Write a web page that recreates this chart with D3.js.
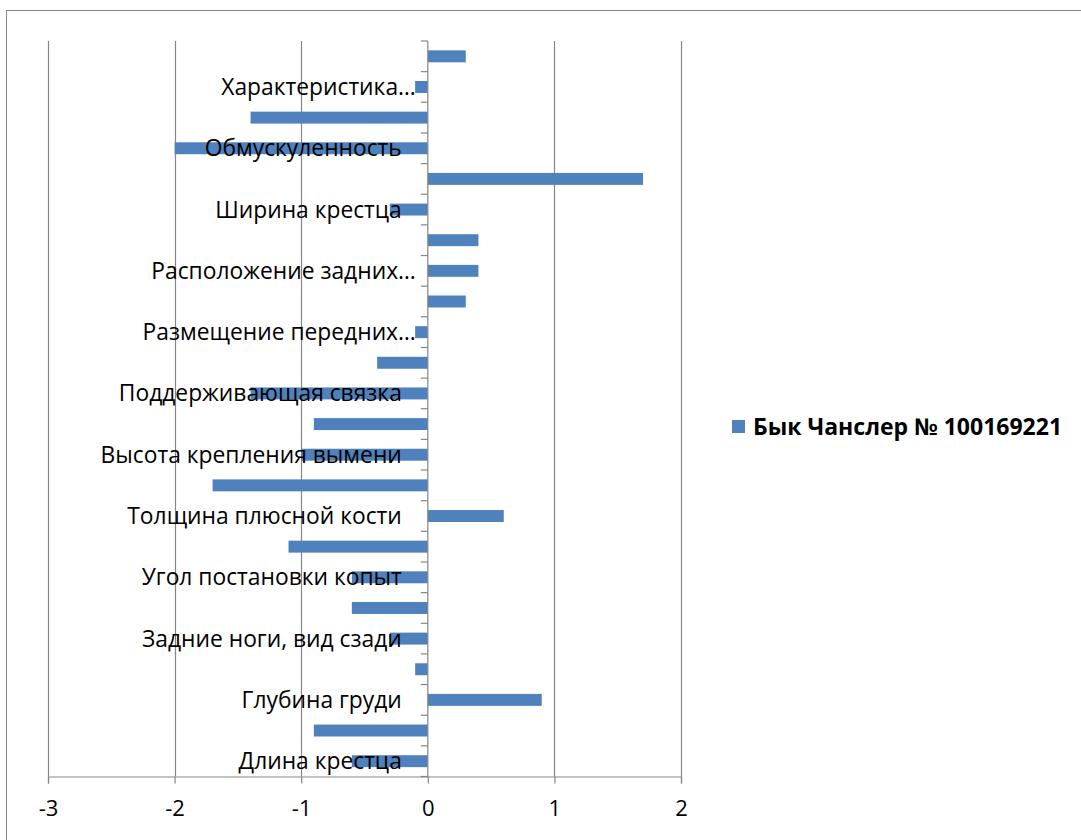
<!DOCTYPE html>
<html><head><meta charset="utf-8">
<script src="https://cdn.jsdelivr.net/npm/d3@7"></script>
<style>body{margin:0;background:#fff}</style>
</head><body>
<script>
// bottom-to-top order
const labels = ["Длина крестца","","Глубина груди","","Задние ноги, вид сзади","","Угол постановки копыт","",
  "Толщина плюсной кости","","Высота крепления вымени","","Поддерживающая связка","","Размещение передних…","",
  "Расположение задних…","","Ширина крестца","","Обмускуленность","","Характеристика…",""];
const values = [-0.6,-0.9,0.9,-0.1,-0.3,-0.6,-0.6,-1.1,0.6,-1.7,-1.0,-0.9,-1.4,-0.4,-0.1,0.3,0.4,0.4,-0.3,1.7,-2.0,-1.4,-0.1,0.3];
const xTicks = [-3,-2,-1,0,1,2];
const seriesName = "Бык Чанслер № 100169221";

const W=1081,H=840;
const svg=d3.select("body").append("svg").attr("width",W).attr("height",H);
const font="'Open Sans', sans-serif";
svg.append("rect").attr("x",6.5).attr("y",10.5).attr("width",1100).attr("height",900)
  .attr("fill","none").attr("stroke","#868686");

const x=d3.scaleLinear().domain([-3,2]).range([48,681]);
const idx=d3.range(values.length);
const y=d3.scaleBand().domain(idx).range([776.5,41]).paddingInner(0.61).paddingOuter(0.305);
const yb=d3.scaleBand().domain(idx).range([776.5,41]);

// gridlines
svg.append("g").selectAll("line").data(xTicks.filter(d=>d!==0)).join("line")
  .attr("x1",d=>Math.round(x(d))+0.5).attr("x2",d=>Math.round(x(d))+0.5)
  .attr("y1",41).attr("y2",776.5).attr("stroke","#868686").attr("stroke-width",1.2);

// bars
svg.append("g").selectAll("rect").data(values).join("rect")
  .attr("x",d=>x(Math.min(0,d))).attr("width",d=>Math.abs(x(d)-x(0)))
  .attr("y",(d,i)=>y(i)).attr("height",y.bandwidth())
  .attr("fill","#4f81bd");

// x axis
const xa=svg.append("g").attr("transform","translate(0,776.5)")
  .call(d3.axisBottom(x).tickValues(xTicks).tickSize(7).tickPadding(17).tickFormat(d=>String(d)));
xa.select(".domain").attr("stroke","#868686").attr("stroke-width",1.2);
xa.selectAll(".tick line").attr("stroke","#868686").attr("stroke-width",1.2);
xa.selectAll("text").attr("font-family",font).attr("font-size",22).attr("fill","#000");

// y axis line at zero
const ya=svg.append("g");
ya.append("line").attr("x1",x(0)).attr("x2",x(0)).attr("y1",41).attr("y2",776.5)
  .attr("stroke","#868686").attr("stroke-width",1.2);
ya.selectAll("line.t").data(d3.range(values.length+1)).join("line").attr("class","t")
  .attr("x1",x(0)-7).attr("x2",x(0))
  .attr("y1",i=>776.5-i*yb.step()).attr("y2",i=>776.5-i*yb.step())
  .attr("stroke","#868686").attr("stroke-width",1.2);
ya.selectAll("text").data(idx.filter(i=>labels[i])).join("text")
  .attr("x",i=>labels[i].endsWith("…")?x(0)-12:x(0)-26)
  .attr("y",i=>yb(i)+yb.bandwidth()/2).attr("dy","0.35em")
  .attr("text-anchor","end").attr("font-family",font).attr("font-size",22.8).attr("fill","#000")
  .text(i=>labels[i]);

// legend
const lg=svg.append("g");
lg.append("rect").attr("x",732).attr("y",420).attr("width",13).attr("height",13).attr("fill","#4f81bd");
lg.append("text").attr("x",753).attr("y",427).attr("dy","0.35em").attr("font-family",font)
  .attr("font-size",23).attr("font-weight","bold").attr("fill","#000").text(seriesName);
</script>
</body></html>
